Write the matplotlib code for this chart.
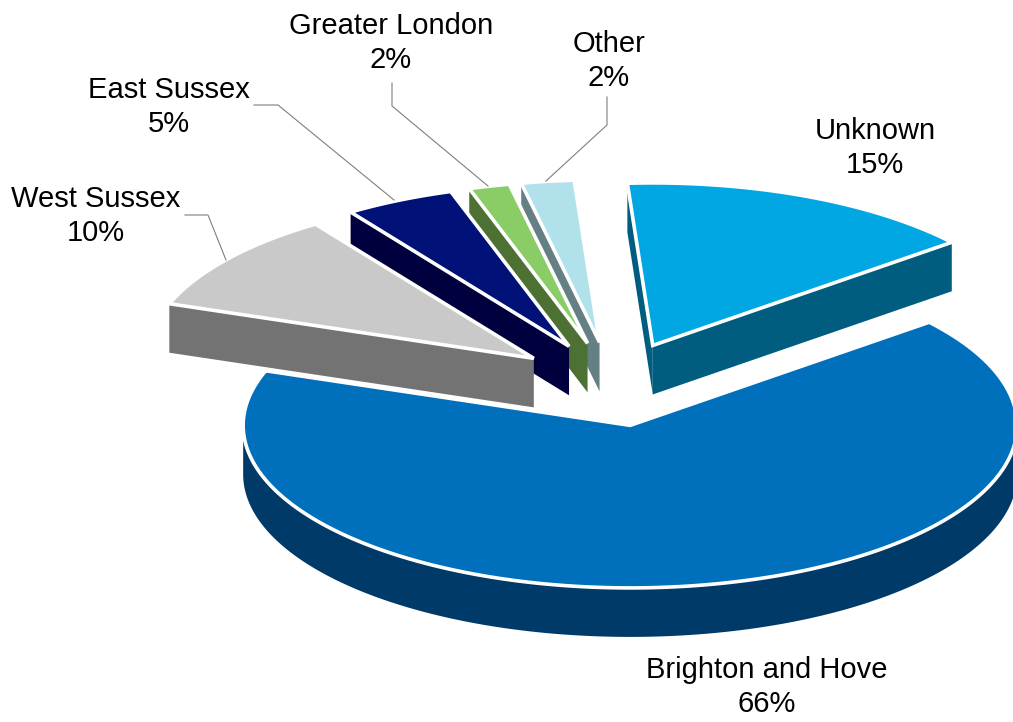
import numpy as np
import matplotlib
matplotlib.use("Agg")
import matplotlib.pyplot as plt
from matplotlib.patches import Polygon

plt.rcParams['font.family'] = ['Liberation Sans', 'DejaVu Sans']

# slices, clockwise from the start angle
labels = ["Brighton and Hove", "West Sussex", "East Sussex", "Greater London", "Other", "Unknown"]
values = [66.4, 10.0, 4.6, 1.7, 2.2, 15.1]
top_colors = ["#0070BC", "#C9C9C9", "#001277", "#8ACC66", "#B1E2EB", "#00A7E3"]
wall_colors = ["#003A68", "#737373", "#00003F", "#4D7132", "#658085", "#005D80"]

# label centres in pixels
label_pos = [(767, 687), (96, 216), (169, 107), (391, 43), (609, 61), (875, 148)]
# leader lines in pixels
leaders = {
    "West Sussex": [(185, 215), (208, 215), (226, 260)],
    "East Sussex": [(254, 105), (278, 105), (394, 200)],
    "Greater London": [(392, 83), (392, 106), (488, 186)],
    "Other": [(607, 97), (607, 125), (546, 181)],
}

START = 39.4
CX, CY = 613, 384      # centre before explode
RX = 387
TILT = 0.42
EXPLODE = 100
DEPTH = 49


def slice_outline(a1, a2):
    # a1 > a2, going clockwise
    mid = np.radians((a1 + a2) / 2)
    ox = CX + EXPLODE * np.cos(mid)
    oy = CY - EXPLODE * TILT * np.sin(mid)
    t = np.radians(np.linspace(a1, a2, max(int(a1 - a2) * 2, 8)))
    xs = ox + RX * np.cos(t)
    ys = oy - RX * TILT * np.sin(t)
    return np.vstack([[ox, oy], np.column_stack([xs, ys])])


def wall_runs(pts):
    # edges going left on screen face the viewer, join them into runs
    runs = []
    cur = None
    for p, q in zip(pts, np.roll(pts, -1, axis=0)):
        if q[0] < p[0]:
            if cur is None:
                cur = [p]
            cur.append(q)
        elif cur is not None:
            runs.append(np.array(cur))
            cur = None
    if cur is not None:
        runs.append(np.array(cur))
    return runs


fig = plt.figure(figsize=(10.13, 7.22), dpi=100)
ax = fig.add_axes([0, 0, 1, 1])
ax.set_xlim(0, 1013)
ax.set_ylim(722, 0)
ax.axis("off")

total = sum(values)
angles = START - np.cumsum([0] + values) * 360.0 / total
outlines = [slice_outline(angles[i], angles[i + 1]) for i in range(len(values))]

# back to front
order = [0, 5, 4, 3, 2, 1]
for z, i in enumerate(order):
    pts = outlines[i]
    for run in wall_runs(pts):
        wall = np.vstack([run, run[::-1] + [0, DEPTH]])
        ax.add_patch(Polygon(wall, closed=True, facecolor=wall_colors[i],
                             edgecolor="none", zorder=z * 2 + 1))
    ax.add_patch(Polygon(pts, closed=True, facecolor=top_colors[i], edgecolor="white",
                         lw=2.6, joinstyle="miter", zorder=z * 2 + 2))

for name, pts in leaders.items():
    xs, ys = zip(*pts)
    ax.plot(xs, ys, color="#7F7F7F", lw=0.8, zorder=20)

for name, v, pos in zip(labels, values, label_pos):
    ax.text(pos[0], pos[1], "%s\n%.0f%%" % (name, v), ha="center", va="center",
            fontsize=21, linespacing=1.3, color="black", zorder=21)

fig.savefig("out.png", dpi=100)
